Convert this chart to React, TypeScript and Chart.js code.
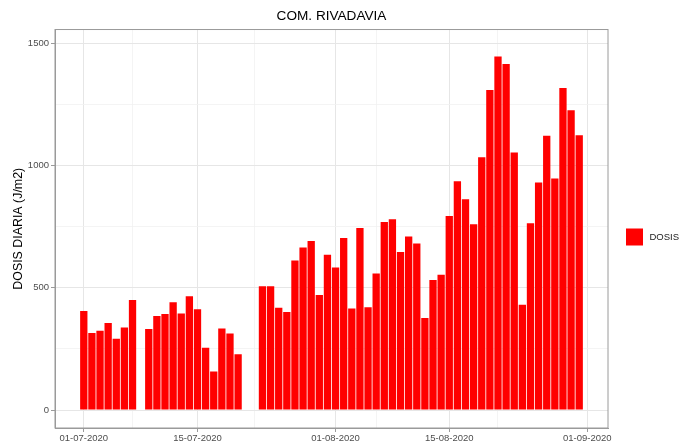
import React, { useEffect, useRef } from 'react';
import { Chart, registerables } from 'chart.js';

Chart.register(...registerables);

const TITLE = 'COM. RIVADAVIA';
const Y_TITLE = 'DOSIS DIARIA (J/m2)';
const SERIES_LABEL = 'DOSIS';

// Daily dates (DD-MM-YYYY); null = no measurement
const DATES = [
  '01-07-2020', '02-07-2020', '03-07-2020', '04-07-2020', '05-07-2020', '06-07-2020', '07-07-2020',
  '08-07-2020', '09-07-2020', '10-07-2020', '11-07-2020', '12-07-2020', '13-07-2020', '14-07-2020',
  '15-07-2020', '16-07-2020', '17-07-2020', '18-07-2020', '19-07-2020', '20-07-2020', '21-07-2020',
  '22-07-2020', '23-07-2020', '24-07-2020', '25-07-2020', '26-07-2020', '27-07-2020', '28-07-2020',
  '29-07-2020', '30-07-2020', '31-07-2020', '01-08-2020', '02-08-2020', '03-08-2020', '04-08-2020',
  '05-08-2020', '06-08-2020', '07-08-2020', '08-08-2020', '09-08-2020', '10-08-2020', '11-08-2020',
  '12-08-2020', '13-08-2020', '14-08-2020', '15-08-2020', '16-08-2020', '17-08-2020', '18-08-2020',
  '19-08-2020', '20-08-2020', '21-08-2020', '22-08-2020', '23-08-2020', '24-08-2020', '25-08-2020',
  '26-08-2020', '27-08-2020', '28-08-2020', '29-08-2020', '30-08-2020', '31-08-2020',
];

const DOSIS: (number | null)[] = [
  405, 315, 324, 356, 291, 338, 450,
  null, 331, 385, 393, 441, 395, 465,
  412, 255, 158, 333, 313, 228, null,
  null, 506, 506, 418, 401, 612, 665,
  691, 470, 635, 583, 704, 415, 745,
  420, 558, 769, 780, 646, 710, 681,
  376, 532, 553, 794, 936, 862, 760,
  1034, 1309, 1446, 1415, 1053, 431, 764,
  931, 1122, 947, 1317, 1226, 1124,
];

const X_TICK_LABELS = ['01-07-2020', '15-07-2020', '01-08-2020', '15-08-2020', '01-09-2020'];
const X_MINOR_BREAKS = ['07-07-2020', '22-07-2020', '06-08-2020', '21-08-2020'];
const Y_MAJOR_TICKS = [0, 500, 1000, 1500];
const Y_MINOR_TICKS = [250, 750, 1250];

const ORIGIN = Date.UTC(2020, 6, 1);
function dayIndex(s: string): number {
  const [d, m, y] = s.split('-').map(Number);
  return (Date.UTC(y, m - 1, d) - ORIGIN) / 86400000;
}

const FONT = 'Liberation Sans, Arial, Helvetica, sans-serif';
const AXIS_COLOR = '#9a9a9a';
const GRID_MAJOR = '#e6e6e6';
const GRID_MINOR = '#f1f1f1';

const framePlugin = {
  id: 'frameAndLegend',
  afterDraw(chart: any) {
    const { ctx, chartArea: a } = chart;
    ctx.save();
    ctx.strokeStyle = AXIS_COLOR;
    ctx.lineWidth = 1;
    ctx.strokeRect(a.left, a.top, a.right - a.left, a.bottom - a.top);
    // legend key
    const ds = chart.data.datasets[0];
    const bx = a.right + 18;
    const by = 228.5;
    ctx.fillStyle = ds.backgroundColor;
    ctx.fillRect(bx, by, 17, 17);
    ctx.fillStyle = '#1a1a1a';
    ctx.font = `9.5px ${FONT}`;
    ctx.textBaseline = 'middle';
    ctx.textAlign = 'left';
    ctx.fillText(ds.label, bx + 23.5, by + 8.7);
    ctx.restore();
  },
};

export default function App() {
  const ref = useRef<HTMLCanvasElement>(null);

  useEffect(() => {
    if (!ref.current) return;
    const points = DATES.map((d, i) => ({ x: dayIndex(d), y: DOSIS[i] })).filter((p) => p.y !== null);
    const majorX = X_TICK_LABELS.map(dayIndex);
    const minorX = X_MINOR_BREAKS.map(dayIndex);
    const labelFor: Record<number, string> = {};
    X_TICK_LABELS.forEach((l) => (labelFor[dayIndex(l)] = l));

    const chart = new Chart(ref.current, {
      type: 'bar',
      data: {
        datasets: [
          {
            label: SERIES_LABEL,
            data: points as any,
            backgroundColor: '#ff0000',
            borderWidth: 0,
            barPercentage: 0.9,
            categoryPercentage: 1,
          },
        ],
      },
      plugins: [framePlugin],
      options: {
        animation: false,
        responsive: true,
        maintainAspectRatio: false,
        layout: { padding: { left: 0, right: 85, top: 0, bottom: 0 } },
        plugins: {
          legend: { display: false },
          tooltip: { enabled: false },
          title: {
            display: true,
            text: TITLE,
            fullSize: false,
            color: '#000000',
            font: { family: FONT, size: 13.6, weight: 'normal' as any },
            padding: { top: 8.5, bottom: 4.7 },
          },
        },
        scales: {
          x: {
            type: 'linear',
            offset: false,
            min: -3.545,
            max: 64.545,
            afterBuildTicks: (scale: any) => {
              scale.ticks = [...majorX, ...minorX].sort((p, q) => p - q).map((v) => ({ value: v }));
            },
            afterFit: (scale: any) => {
              scale.height = 18;
            },
            ticks: {
              autoSkip: false,
              maxRotation: 0,
              minRotation: 0,
              padding: 1,
              color: '#4d4d4d',
              font: { family: FONT, size: 9.5 },
              callback: (v: any) => labelFor[v as number] ?? '',
            },
            grid: {
              offset: false,
              color: (c: any) => (majorX.includes(c.tick?.value) ? GRID_MAJOR : GRID_MINOR),
              lineWidth: (c: any) => (majorX.includes(c.tick?.value) ? 1 : 0.8),
              tickColor: (c: any) => (majorX.includes(c.tick?.value) ? AXIS_COLOR : 'rgba(0,0,0,0)'),
              tickLength: 4,
            },
            border: { display: true, color: AXIS_COLOR },
          },
          y: {
            type: 'linear',
            min: -73.6,
            max: 1556.5,
            afterBuildTicks: (scale: any) => {
              scale.ticks = [...Y_MAJOR_TICKS, ...Y_MINOR_TICKS].sort((p, q) => p - q).map((v) => ({ value: v }));
            },
            afterFit: (scale: any) => {
              scale.width = 55;
            },
            ticks: {
              autoSkip: false,
              padding: 2,
              color: '#4d4d4d',
              font: { family: FONT, size: 9.5 },
              callback: (v: any) => (Y_MAJOR_TICKS.includes(v as number) ? String(v) : ''),
            },
            grid: {
              color: (c: any) => (Y_MAJOR_TICKS.includes(c.tick?.value) ? GRID_MAJOR : GRID_MINOR),
              lineWidth: (c: any) => (Y_MAJOR_TICKS.includes(c.tick?.value) ? 1 : 0.8),
              tickColor: (c: any) => (Y_MAJOR_TICKS.includes(c.tick?.value) ? AXIS_COLOR : 'rgba(0,0,0,0)'),
              tickLength: 4,
            },
            border: { display: true, color: AXIS_COLOR },
            title: {
              display: true,
              text: Y_TITLE,
              color: '#000000',
              font: { family: FONT, size: 12.4 },
              padding: { top: 11.5, bottom: 0 },
            },
          },
        },
      },
    });
    return () => chart.destroy();
  }, []);

  return (
    <div style={{ position: 'absolute', left: 0, top: 0, width: 693, height: 446 }}>
      <canvas ref={ref} />
    </div>
  );
}
